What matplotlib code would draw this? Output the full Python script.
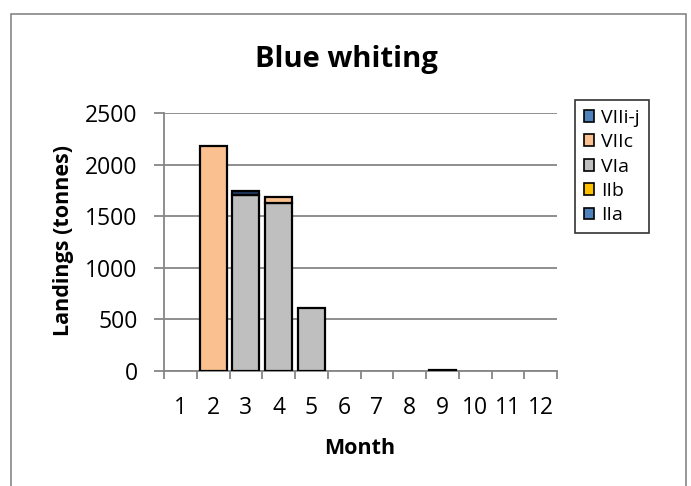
import matplotlib
matplotlib.use('Agg')
import matplotlib.pyplot as plt
from matplotlib.patches import Rectangle
import numpy as np

plt.rcParams['font.family'] = ['Open Sans', 'DejaVu Sans']

# Monthly landings (tonnes) by ICES area
months = ['1', '2', '3', '4', '5', '6', '7', '8', '9', '10', '11', '12']
IIa = [0, 0, 0, 0, 0, 0, 0, 0, 0, 0, 0, 0]
IIb = [0, 0, 0, 0, 0, 0, 0, 0, 0, 0, 0, 0]
VIa = [0, 0, 1705, 1630, 615, 0, 0, 0, 12, 0, 0, 0]
VIIc = [0, 2185, 0, 52, 0, 0, 0, 0, 0, 0, 0, 0]
VIIij = [0, 0, 35, 0, 0, 0, 0, 0, 0, 0, 0, 0]

series = [('IIa', IIa, '#4F81BD'),
          ('IIb', IIb, '#FFC000'),
          ('VIa', VIa, '#BFBFBF'),
          ('VIIc', VIIc, '#FAC090'),
          ('VIIi-j', VIIij, '#1F3A60')]
legend_colours = {'VIIi-j': '#4F81BD'}

fig = plt.figure(figsize=(6.91, 4.86), dpi=100)
ax = fig.add_axes([164/691, 1 - 371/486, 393/691, 258/486])

# chart border (bottom edge runs off the image)
fig.patches.append(Rectangle((11/691, -0.02), 675/691, 1.02 - 14/486,
                             transform=fig.transFigure, fill=False,
                             edgecolor='#868686', linewidth=1.2))

x = np.arange(len(months))
bottom = np.zeros(len(months))
handles = []
for name, vals, col in series:
    vals = np.array(vals, dtype=float)
    nz = vals > 0  # zero segments are not drawn
    ax.bar(x[nz], vals[nz], 0.83, bottom=bottom[nz], color=col, edgecolor='black',
           linewidth=1.6, zorder=3)
    bottom += vals
    handles.append(Rectangle((0, 0), 1, 1, facecolor=legend_colours.get(name, col),
                             edgecolor='black', linewidth=1.2, label=name))

ax.set_xlim(-0.5, len(months) - 0.5)
ax.set_ylim(0, 2500)
ax.set_yticks(np.arange(0, 2501, 500))
ax.yaxis.grid(True, color='#868686', linewidth=1.3, zorder=0)
ax.set_axisbelow(True)

ax.set_xticks(x)
ax.set_xticklabels(months)
ax.set_xticks(np.arange(-0.5, len(months), 1), minor=True)
ax.tick_params(axis='x', which='major', length=0, pad=18, labelsize=16.5)
ax.tick_params(axis='x', which='minor', length=6, color='#868686', width=1.3)
ax.tick_params(axis='y', length=7, color='#868686', width=1.3, labelsize=16.5, pad=12)

for s in ['top', 'right']:
    ax.spines[s].set_visible(False)
for s in ['left', 'bottom']:
    ax.spines[s].set_color('#868686')
    ax.spines[s].set_linewidth(1.3)

fig.text(346/691, 1 - 67/486, 'Blue whiting', ha='center', va='baseline',
         fontsize=21, fontweight='bold')
fig.text(360/691, 1 - 454/486, 'Month', ha='center', va='baseline',
         fontsize=15.5, fontweight='bold')
fig.text(63/691, 1 - 240/486, 'Landings (tonnes)', ha='center', va='center',
         rotation=90, fontsize=15.5, fontweight='bold')

leg = fig.legend(handles=handles[::-1], loc='upper left',
                 bbox_to_anchor=(575/691, 1 - 100/486), frameon=True,
                 fancybox=False, edgecolor='black', fontsize=14,
                 handlelength=0.55, handleheight=0.55, handletextpad=0.35,
                 labelspacing=0.33, borderpad=0.45, borderaxespad=0)
leg.get_frame().set_linewidth(1.2)

fig.savefig('out.png', dpi=100)
